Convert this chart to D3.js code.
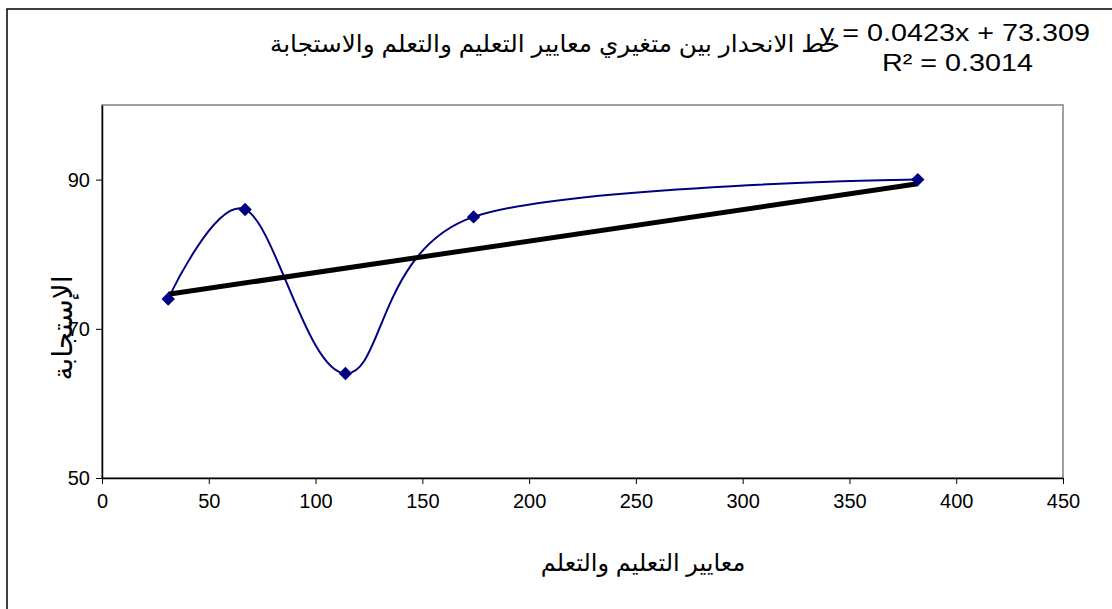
<!DOCTYPE html>
<html>
<head>
<meta charset="utf-8">
<script src="https://cdn.jsdelivr.net/npm/d3@7"></script>
<style>
  body { margin: 0; background: #fff; }
  text { font-family: "Liberation Sans", Arial, "DejaVu Sans", sans-serif; fill: #000; }
</style>
</head>
<body>
<div id="page-container"></div>
<script>
  // values
  var standards = [31, 67, 114, 174, 382];      // معايير التعليم والتعلم
  var response  = [74, 86, 64, 85, 90];         // الاستجابة
  var xTicks = [0, 50, 100, 150, 200, 250, 300, 350, 400, 450];
  var yTicks = [50, 70, 90];
  var titleText = "خط الانحدار بين متغيري معايير التعليم والتعلم  والاستجابة";
  var equationText = "y = 0.0423x + 73.309";
  var r2Text = "R² = 0.3014";
  var xLabel = "معايير التعليم والتعلم";
  var yLabel = "الإستجابة";

  var W = 1112, H = 609;
  var plot = {left: 102, top: 105, right: 1063, bottom: 478};

  var points = standards.map((s, i) => ({x: s, y: response[i]}));

  var x = d3.scaleLinear().domain([0, 450]).range([plot.left, plot.right]);
  var y = d3.scaleLinear().domain([50, 100]).range([plot.bottom, plot.top]);

  var svg = d3.select("#page-container").append("svg")
              .attr("width", W)
              .attr("height", H);

  // chart frame
  svg.append("rect")
     .attr("x", 7).attr("y", 9)
     .attr("width", W + 20).attr("height", H + 20)
     .attr("fill", "none").attr("stroke", "#000").attr("stroke-width", 1.5);

  // plot area border
  svg.append("rect")
     .attr("x", plot.left).attr("y", plot.top)
     .attr("width", plot.right - plot.left).attr("height", plot.bottom - plot.top)
     .attr("fill", "none").attr("stroke", "#808080").attr("stroke-width", 1.5);

  // axes
  var xAxis = svg.append("g")
     .attr("transform", "translate(0," + plot.bottom + ")")
     .call(d3.axisBottom(x).tickValues(xTicks).tickSize(6).tickSizeOuter(0).tickPadding(10));
  var yAxis = svg.append("g")
     .attr("transform", "translate(" + plot.left + ",0)")
     .call(d3.axisLeft(y).tickValues(yTicks).tickSize(6).tickSizeOuter(0).tickPadding(6));

  [xAxis, yAxis].forEach(a => {
    a.select(".domain").attr("stroke", "#000").attr("stroke-width", 1.5);
    a.selectAll(".tick line").attr("stroke", "#000");
    a.selectAll(".tick text").style("font-size", "20px").attr("fill", "#000");
  });

  // smoothed series line
  var line = d3.line()
               .x(d => x(d.x))
               .y(d => y(d.y))
               .curve(d3.curveCardinal.tension(0));

  svg.append("path")
     .datum(points)
     .attr("d", line)
     .attr("fill", "none")
     .attr("stroke", "#000080")
     .attr("stroke-width", 2);

  // linear trend line (least squares)
  var mx = d3.mean(standards), my = d3.mean(response);
  var slope = d3.sum(points, d => (d.x - mx) * (d.y - my)) / d3.sum(points, d => (d.x - mx) * (d.x - mx));
  var intercept = my - slope * mx;
  var ext = d3.extent(standards);

  svg.append("line")
     .attr("x1", x(ext[0])).attr("y1", y(slope * ext[0] + intercept))
     .attr("x2", x(ext[1])).attr("y2", y(slope * ext[1] + intercept))
     .attr("stroke", "#000")
     .attr("stroke-width", 5);

  // diamond markers
  svg.selectAll(".pt")
     .data(points)
   .enter().append("path")
     .attr("class", "pt")
     .attr("d", d3.symbol().type(d3.symbolSquare).size(90))
     .attr("transform", d => "translate(" + x(d.x) + "," + y(d.y) + ") rotate(45)")
     .attr("fill", "#000080");

  // title and trend equation
  svg.append("text")
     .attr("x", 840).attr("y", 52)
     .attr("text-anchor", "end")
     .style("font-size", "24px")
     .attr("textLength", 570)
     .attr("lengthAdjust", "spacingAndGlyphs")
     .text(titleText);

  svg.append("text")
     .attr("x", 1090).attr("y", 41)
     .attr("text-anchor", "end")
     .style("font-size", "24px")
     .attr("textLength", 270)
     .attr("lengthAdjust", "spacingAndGlyphs")
     .text(equationText);

  svg.append("text")
     .attr("x", 1033).attr("y", 71)
     .attr("text-anchor", "end")
     .style("font-size", "24px")
     .attr("textLength", 151)
     .attr("lengthAdjust", "spacingAndGlyphs")
     .text(r2Text);

  // axis titles
  svg.append("text")
     .attr("x", 643).attr("y", 571)
     .attr("text-anchor", "middle")
     .style("font-size", "24px")
     .text(xLabel);

  svg.append("text")
     .attr("transform", "translate(72,328) rotate(-90)")
     .attr("text-anchor", "middle")
     .style("font-size", "28px")
     .text(yLabel);
</script>
</body>
</html>
